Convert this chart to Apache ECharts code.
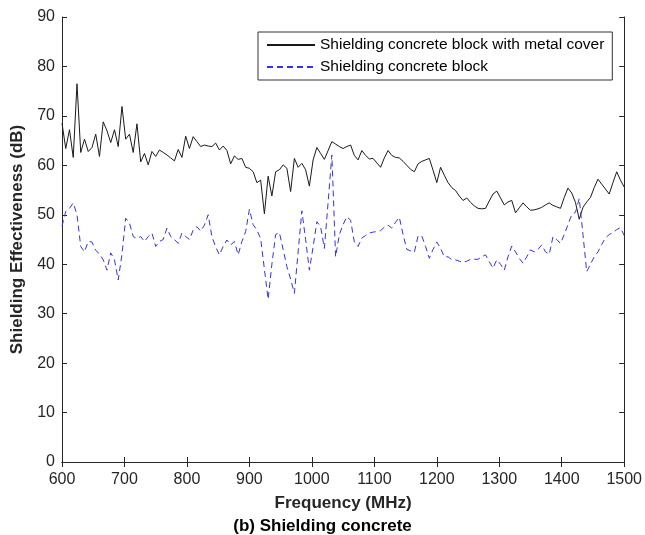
<!DOCTYPE html>
<html>
<head>
<meta charset="utf-8">
<script src="https://cdn.jsdelivr.net/npm/echarts@6/dist/echarts.min.js"></script>
<style>
html,body{margin:0;padding:0;background:#fff;}
#c{width:645px;height:535px;}
</style>
</head>
<body>
<div id="c"></div>
<script>
// Frequency grid (MHz), 6 MHz step
const freqs = [
  600,606,612,618,624,630,636,642,648,654,
  660,666,672,678,684,690,696,702,708,714,
  720,726,732,738,744,750,756,762,768,774,
  780,786,792,798,804,810,816,822,828,834,
  840,846,852,858,864,870,876,882,888,894,
  900,906,912,918,924,930,936,942,948,954,
  960,966,972,978,984,990,996,1002,1008,1014,
  1020,1026,1032,1038,1044,1050,1056,1062,1068,1074,
  1080,1086,1092,1098,1104,1110,1116,1122,1128,1134,
  1140,1146,1152,1158,1164,1170,1176,1182,1188,1194,
  1200,1206,1212,1218,1224,1230,1236,1242,1248,1254,
  1260,1266,1272,1278,1284,1290,1296,1302,1308,1314,
  1320,1326,1332,1338,1344,1350,1356,1362,1368,1374,
  1380,1386,1392,1398,1404,1410,1416,1422,1428,1434,
  1440,1446,1452,1458,1464,1470,1476,1482,1488,1494,
  1500
];
// Shielding concrete block with metal cover (dB)
const seMetal = [
  68.5,63.4,67.2,61.6,76.5,62.6,65.3,62.8,63.6,66.3,
  61.8,68.8,67,64.6,67.2,63.8,71.9,65.3,66.3,62.6,
  68.4,60.7,62.4,60.1,62.8,61.8,63.1,62.6,62.1,61.5,
  60.9,63.2,61.6,65.9,63.4,65.8,64.8,63.8,64.1,63.9,
  63.8,64.5,63.1,63.9,63,60.3,61.9,61.2,61.4,59.6,
  59.4,58.7,56.5,57,50.2,57.8,53.8,58.7,59.1,60.1,
  59.4,54.7,61.4,59.6,60.4,59.1,55.8,61.1,63.6,62.4,
  61.2,63,64.8,64.3,63.8,63.4,63.8,64.1,62,61.1,
  63,62,61.3,61.4,60.5,59.6,61.5,63,62,61.6,
  61.5,60.8,60,59.2,58.7,60.3,60.8,61.1,61.4,59,
  56.5,59.6,58,56.5,55.5,54.9,53.8,52.9,53.4,52.5,
  51.8,51.3,51.2,51.3,52.8,54.2,54.8,53.4,52,52.6,
  52.9,50.4,51.4,52.4,51.6,50.9,51,51.2,51.5,52,
  52.4,51.9,51.6,51.3,53.5,55.4,54.4,52.5,49.1,51.5,
  52.6,53.5,55.5,57.2,56.2,55.2,54.2,56.5,58.7,57,
  55.6
];
// Shielding concrete block (dB)
const seBlock = [
  47.7,50.7,51.3,52.4,50,43.6,42.5,44.6,44.5,42.8,
  42.1,40.9,38.8,42.3,40.9,36.8,42,49.3,48.3,45.6,
  45.2,45.6,44.6,45.6,46.3,43.6,44.6,45,47.3,45.6,
  45,44.2,46.3,45.6,45,46.9,47.6,46.7,47.9,50,
  45.6,43.5,41.9,43.6,44.9,43.9,44.6,41.9,44.6,46.6,
  51.1,48,46.9,45.2,39,32.9,40,46,46.4,43,
  39.5,37,34.1,42.5,50.8,45,38.8,43.5,48.6,47.6,
  43.2,52.5,62.1,41.5,46,48,49.6,48.9,44.5,43.6,
  45.3,45.8,46.3,46.5,46.6,46.8,47.5,47.9,47.3,48.5,
  49.5,46,43,42.7,42.4,45.7,45.7,43.6,41.2,43,
  44.5,43.2,41.5,41.5,40.9,40.9,40.6,40.4,40.6,41,
  41,41,41.5,41.9,40.5,39.2,40.9,40,38.8,41.5,
  43.7,42.5,41.2,40.2,41.5,42.9,42.5,43,43.9,42.5,
  42,45.6,45,44.2,46,48,50,50.5,53.3,46,
  38.5,40,41.5,42.5,44,45.3,46,46.4,47,47.4,
  45.8
];
const seriesNames = ['Shielding concrete block with metal cover', 'Shielding concrete block'];
const xLabel = 'Frequency (MHz)';
const yLabel = 'Shielding Effectiveness (dB)';
const caption = '(b) Shielding concrete';

const FONT = 'Liberation Sans, Arial, sans-serif';
const axisColor = '#262626';

const chart = echarts.init(document.getElementById('c'), null, {renderer: 'canvas'});
const pairs = (ys) => freqs.map((f, i) => [f, ys[i]]);

const commonAxisLine = {show: true, lineStyle: {color: axisColor, width: 1}};
const commonTick = {show: true, inside: true, length: 5, lineStyle: {color: axisColor, width: 1}};
const plain = (v) => String(v);

chart.setOption({
  animation: false,
  backgroundColor: '#fff',
  grid: {left: 62, right: 20, top: 17, bottom: 73, containLabel: false},
  legend: {
    orient: 'vertical',
    left: 258, top: 32,
    backgroundColor: '#fff',
    borderColor: '#333', borderWidth: 1,
    padding: [5, 8, 5, 8],
    itemGap: 6,
    itemWidth: 48, itemHeight: 10,
    itemStyle: {opacity: 0},
    textStyle: {fontFamily: FONT, fontSize: 15.5, color: '#000'},
    data: seriesNames
  },
  xAxis: [{
    type: 'value', min: 600, max: 1500, interval: 100,
    position: 'bottom',
    axisLine: commonAxisLine, axisTick: commonTick,
    splitLine: {show: false},
    axisLabel: {fontFamily: FONT, fontSize: 16, color: axisColor, margin: 10, formatter: plain},
    name: xLabel, nameLocation: 'middle', nameGap: 33,
    nameTextStyle: {fontFamily: FONT, fontSize: 17, fontWeight: 'bold', color: axisColor}
  }, {
    type: 'value', min: 600, max: 1500, interval: 100,
    position: 'top',
    axisLine: commonAxisLine, axisTick: commonTick,
    splitLine: {show: false}, axisLabel: {show: false}
  }],
  yAxis: [{
    type: 'value', min: 0, max: 90, interval: 10,
    position: 'left',
    axisLine: commonAxisLine, axisTick: commonTick,
    splitLine: {show: false},
    axisLabel: {fontFamily: FONT, fontSize: 16, color: axisColor, margin: 7, formatter: plain},
    name: yLabel, nameLocation: 'middle', nameGap: 34, nameRotate: 90,
    nameTextStyle: {fontFamily: FONT, fontSize: 17, fontWeight: 'bold', color: axisColor}
  }, {
    type: 'value', min: 0, max: 90, interval: 10,
    position: 'right',
    axisLine: commonAxisLine, axisTick: commonTick,
    splitLine: {show: false}, axisLabel: {show: false}
  }],
  series: [{
    name: seriesNames[0], type: 'line', xAxisIndex: 0, yAxisIndex: 0,
    data: pairs(seMetal), symbol: 'none', smooth: false,
    lineStyle: {color: '#1a1a1a', width: 1}, itemStyle: {color: '#1a1a1a'}
  }, {
    name: seriesNames[1], type: 'line', xAxisIndex: 0, yAxisIndex: 0,
    data: pairs(seBlock), symbol: 'none', smooth: false,
    lineStyle: {color: '#3333ee', width: 1, type: [6, 4]}, itemStyle: {color: '#3333ee'}
  }],
  graphic: [{
    type: 'text', left: 'center', top: 518,
    style: {text: caption, font: 'bold 17px ' + FONT, fill: '#000'}
  }]
});
</script>
</body>
</html>
